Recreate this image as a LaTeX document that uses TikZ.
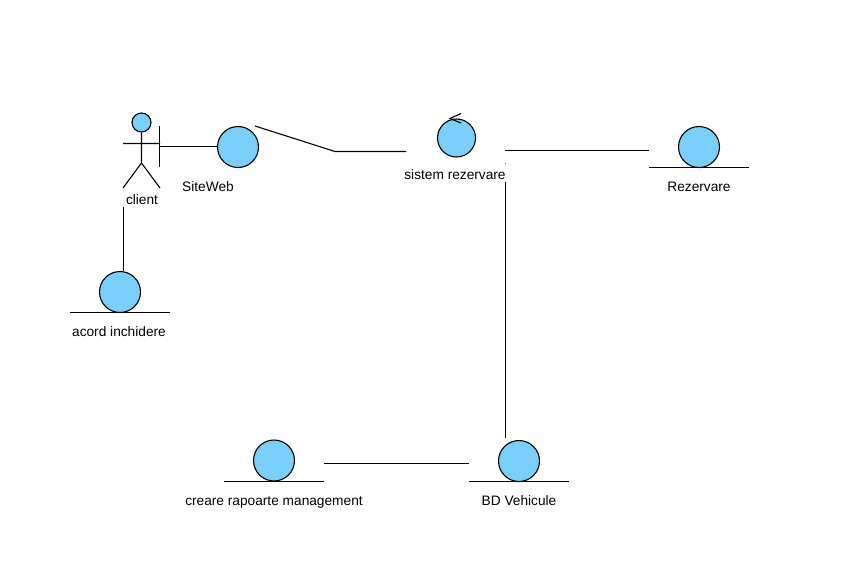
\documentclass[tikz,border=0pt]{standalone}
\usepackage{fontspec}
\setmainfont{Liberation Sans}
\tikzset{
  ln/.style={draw=black,line width=1.1pt},
  ball/.style={circle,draw=black,line width=1.1pt,fill=ballblue,inner sep=0pt,minimum size=#1},
  ball/.default=41pt,
  lbl/.style={inner sep=0pt,font=\fontsize{13.7}{15}\selectfont,text=black},
}
\definecolor{ballblue}{RGB}{122,207,248}
\begin{document}
\begin{tikzpicture}[x=1pt,y=-1pt]
\useasboundingbox[fill=white] (0,0) rectangle (863,565);
% actor
\node[ball=19pt] (head) at (141.5,122.5) {};
\coordinate (hip) at (141.5,163);
\coordinate (armL) at (123,143.5);
\coordinate (armR) at (160,143.5);
\coordinate (legL) at (123,188);
\coordinate (legR) at (160,188);
\draw[ln] (head.south) -- (hip) (armL) -- (armR) (legL) -- (hip) -- (legR);
\node[lbl] (client) at (142,200) {client};
% nodes
\node[ball] (site) at (238,147) {};
\node[lbl] (sitel) at (208,187) {SiteWeb};
\node[ball=38pt] (ctrl) at (456.5,138) {};
\node[lbl] (ctrll) at (455,175) {sistem rezervare};
\node[ball] (rez) at (699,147) {};
\node[lbl] (rezl) at (699,187) {Rezervare};
\node[ball] (acord) at (120,292) {};
\node[lbl] (acordl) at (119,332) {acord inchidere};
\node[ball] (bd) at (519,461) {};
\node[lbl] (bdl) at (519,501) {BD Vehicule};
\node[ball] (rap) at (274,460.5) {};
\node[lbl] (rapl) at (274,502) {creare rapoarte management};
% entity underlines and boundary bar
\draw[ln] (649,167.5) -- (749,167.5);
\draw[ln] (70,312.5) -- (170,312.5);
\draw[ln] (469,481.5) -- (569,481.5);
\draw[ln] (224,481.5) -- (324,481.5);
\coordinate (barT) at (159.5,126);
\coordinate (barB) at (159.5,167);
\coordinate (barM) at (159.5,146.5);
\draw[ln] (barT) -- (barB);
% control arrow
\draw[ln] (461,113.5) -- (450,118.5) -- (461,123);
% connectors
\coordinate (s1) at (255,126);
\coordinate (s2) at (335,151.5);
\coordinate (s3) at (406,151.5);
\coordinate (c1) at (505,150.5);
\coordinate (r1) at (649,150.5);
\coordinate (c2) at (505.5,182);
\coordinate (b1) at (505.5,438);
\coordinate (b2) at (469,463.5);
\coordinate (p1) at (324,463.5);
\coordinate (f1) at (123.5,207);
\coordinate (a1) at (123.5,271);
\draw[ln] (barM) -- (barM -| site.west);
\draw[ln] (s1) -- (s2) -- (s3);
\draw[ln] (c1) -- (r1);
\draw[ln] (c2) -- (b1);
\draw[ln] (b2) -- (p1);
\draw[ln] (f1) -- (a1);
% stray speck above the vertical connector
\fill[black!60] (505,162.5) rectangle (506,163.5);
\end{tikzpicture}
\end{document}
